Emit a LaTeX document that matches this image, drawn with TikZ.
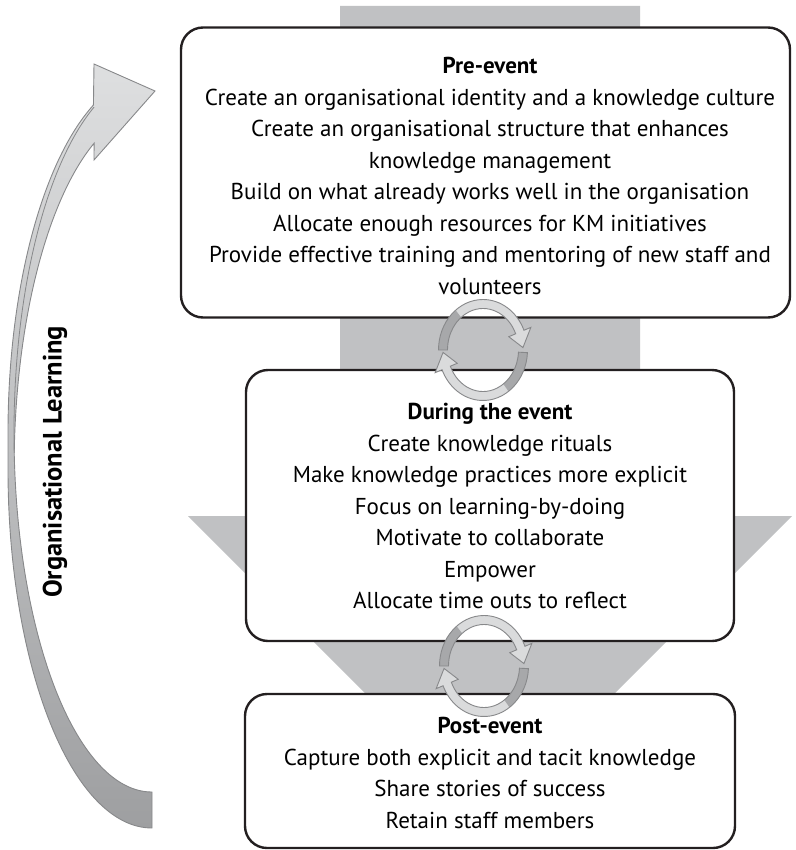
\documentclass[tikz,border=0pt]{standalone}
\usepackage{fontspec}
\setmainfont{PT Sans}
\usetikzlibrary{calc}

\definecolor{flowgray}{RGB}{192,193,195}
\definecolor{boxline}{RGB}{35,31,32}
\definecolor{ringlight}{RGB}{218,219,220}
\definecolor{ringdark}{RGB}{167,168,170}
\definecolor{ringedge}{RGB}{135,136,138}
\definecolor{learnlight}{RGB}{222,223,224}
\definecolor{learndark}{RGB}{158,159,161}

\newcommand\stagefont{\fontsize{23}{31.5}\selectfont}

% radii of the small circular arrows (centre line, band, head)
\def\rxo{44.5}\def\ryo{50.5}
\def\rxi{35.5}\def\ryi{41.5}
\def\rxh{52}\def\ryh{58}
\def\rxhi{28}\def\ryhi{34}
\def\rxc{40}\def\ryc{46}

% point on an ellipse: centre, angle, x radius, y radius
\newcommand\ep[4]{($(#1)+({#3*cos(#2)},{#4*sin(#2)})$)}
% curved band with an arrow head: centre, start angle, head base angle, tip angle
\newcommand\ringoutline[4]{\ep{#1}{#2}{\rxo}{\ryo}
  arc[start angle=#2,end angle=#3,x radius=\rxo,y radius=\ryo]
  -- \ep{#1}{#3}{\rxh}{\ryh} -- \ep{#1}{#4}{\rxc}{\ryc}
  -- \ep{#1}{#3}{\rxhi}{\ryhi} -- \ep{#1}{#3}{\rxi}{\ryi}
  arc[start angle=#3,end angle=#2,x radius=\rxi,y radius=\ryi] -- cycle}
% plain band piece: centre, from angle, to angle
\newcommand\ringband[3]{\ep{#1}{#2}{\rxo}{\ryo}
  arc[start angle=#2,end angle=#3,x radius=\rxo,y radius=\ryo]
  -- \ep{#1}{#3}{\rxi}{\ryi}
  arc[start angle=#3,end angle=#2,x radius=\rxi,y radius=\ryi] -- cycle}
\newcommand\ringarrow[6]{%
  \fill[ringlight] \ringoutline{#1}{#2}{#3}{#4};
  \fill[ringdark] \ringband{#1}{#5}{#6};
  \draw[ring] \ringoutline{#1}{#2}{#3}{#4};}

\begin{document}
\begin{tikzpicture}[x=1pt,y=-1pt,
  stage/.style={draw=boxline,line width=2.4pt,fill=white,rounded corners=22pt,
    inner sep=0pt},
  stagetext/.style={align=center,inner sep=0pt,font=\stagefont},
  ring/.style={draw=ringedge,line width=0.9pt,line join=miter}]

\useasboundingbox (0,0) rectangle (795,850);

% broad downward arrow behind the stages
\fill[flowgray] (340,6) -- (640,6) -- (640,516) -- (792,516) -- (490,818)
  -- (188,516) -- (340,516) -- cycle;

% curved learning arrow on the left: two offset ellipses form the ribbon
\path[top color=learnlight,bottom color=learndark,draw=ringedge,line width=0.9pt]
  (93.43,105.04) arc[start angle=246,end angle=180,x radius=144,y radius=359]
  -- (8,469) arc[start angle=180,end angle=90,x radius=144,y radius=359]
  -- (152,792) arc[start angle=90,end angle=176.8,x radius=138,y radius=359]
  arc[start angle=182.55,end angle=245.15,x radius=138,y radius=359]
  -- (94,160) -- (155,91) -- (94,64) -- cycle;
% fold line of the ribbon near the head
\draw[ringedge,line width=0.8pt] (14.2,453) arc[start angle=176.8,end angle=245.15,x radius=138,y radius=359];

\node[font=\fontsize{26.5}{30}\selectfont\bfseries,rotate=90] (learning) at (55,462) {Organisational Learning};

% the three stages
\node[stage,minimum width=609pt,minimum height=290pt] (pre) at (485.5,172.5) {};
\node[stage,minimum width=488pt,minimum height=271pt] (during) at (490,505.5) {};
\node[stage,minimum width=490pt,minimum height=154pt] (post) at (490,771) {};

\node[stagetext] (preText) at (490,176)
  {\textbf{Pre-event}\\
   Create an organisational identity and a knowledge culture\\
   Create an organisational structure that enhances\\
   knowledge management\\
   Build on what already works well in the organisation\\
   Allocate enough resources for KM initiatives\\
   Provide effective training and mentoring of new staff and\\
   volunteers};

\node[stagetext] (duringText) at (490,506)
  {\textbf{During the event}\\
   Create knowledge rituals\\
   Make knowledge practices more explicit\\
   Focus on learning-by-doing\\
   Motivate to collaborate\\
   Empower\\
   Allocate time outs to reflect};

\node[stagetext] (postText) at (490,773)
  {\textbf{Post-event}\\
   Capture both explicit and tacit knowledge\\
   Share stories of success\\
   Retain staff members};

% circular arrows linking the stages
\coordinate (loopA) at (483,350);
\coordinate (loopB) at (484,666);
\ringarrow{loopA}{180}{337}{357}{180}{232}
\ringarrow{loopA}{3}{157}{177}{3}{55}
\ringarrow{loopB}{180}{337}{357}{180}{232}
\ringarrow{loopB}{3}{157}{177}{3}{55}

\end{tikzpicture}
\end{document}
